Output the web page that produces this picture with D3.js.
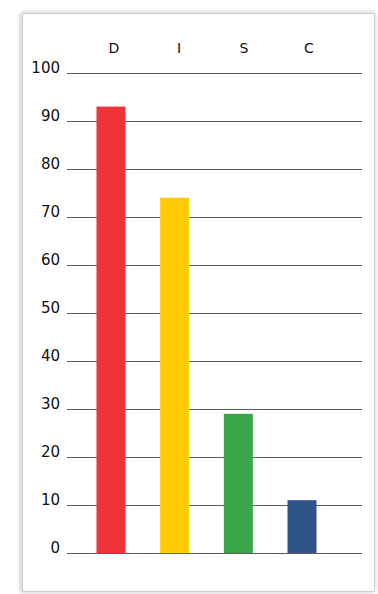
<!DOCTYPE html>
<html>
<head>
<meta charset="utf-8">
<script src="https://cdn.jsdelivr.net/npm/d3@7"></script>
<style>
  html, body { margin: 0; padding: 0; background: #fff; }
  svg { display: block; }
</style>
</head>
<body>
<svg id="chart" width="378" height="594"></svg>
<script>
const categories = ["D", "I", "S", "C"];
const values = [93, 74, 29, 11];
const colors = ["#EE3439", "#FFCB05", "#3BA64A", "#2F5488"];
const yTicks = [0, 10, 20, 30, 40, 50, 60, 70, 80, 90, 100];

const svg = d3.select("#chart");

// frame panel with soft shadow
const defs = svg.append("defs");
const f = defs.append("filter").attr("id", "sh").attr("x", "-5%").attr("y", "-5%").attr("width", "110%").attr("height", "110%");
f.append("feGaussianBlur").attr("in", "SourceAlpha").attr("stdDeviation", 2.5);
f.append("feOffset").attr("dx", -1).attr("dy", 0).attr("result", "b");
f.append("feComponentTransfer").append("feFuncA").attr("type", "linear").attr("slope", 0.3);
const fm = f.append("feMerge");
fm.append("feMergeNode");
fm.append("feMergeNode").attr("in", "SourceGraphic");

svg.append("rect")
  .attr("x", 22.5).attr("y", 13.5)
  .attr("width", 352).attr("height", 578)
  .attr("fill", "#fff")
  .attr("stroke", "#cfcfcf")
  .attr("stroke-width", 1.2)
  .attr("filter", "url(#sh)");

const plotLeft = 67, plotRight = 362;
const y = d3.scaleLinear().domain([0, 100]).range([553, 73]);
const x = d3.scalePoint().domain(categories).range([111, 302]);
const xLabel = d3.scalePoint().domain(categories).range([114, 309]);
const barW = 29;

// gridlines + y labels
const yAxis = d3.axisLeft(y)
  .tickValues(yTicks)
  .tickSize(-(plotRight - plotLeft))
  .tickPadding(7)
  .tickFormat(d3.format("d"));

const gy = svg.append("g")
  .attr("transform", `translate(${plotLeft},0)`)
  .call(yAxis);
gy.select(".domain").remove();
gy.selectAll(".tick line").attr("stroke", "#5a5a5a").attr("stroke-width", 1);
gy.selectAll(".tick text")
  .attr("font-family", "'DejaVu Sans', Verdana, sans-serif")
  .attr("font-size", 15)
  .attr("fill", "#111")
  .attr("dy", "-0.05em");

// bars
svg.append("g").selectAll("rect")
  .data(categories)
  .join("rect")
  .attr("x", (d) => x(d) - barW / 2)
  .attr("width", barW)
  .attr("y", (d, i) => y(values[i]))
  .attr("height", (d, i) => y(0) - y(values[i]))
  .attr("fill", (d, i) => colors[i]);

// category labels
svg.append("g").selectAll("text")
  .data(categories)
  .join("text")
  .attr("x", (d) => xLabel(d))
  .attr("y", 48)
  .attr("text-anchor", "middle")
  .attr("dominant-baseline", "central")
  .attr("font-family", "'DejaVu Sans', Verdana, sans-serif")
  .attr("font-size", 14)
  .attr("fill", "#111")
  .text((d) => d);
</script>
</body>
</html>
